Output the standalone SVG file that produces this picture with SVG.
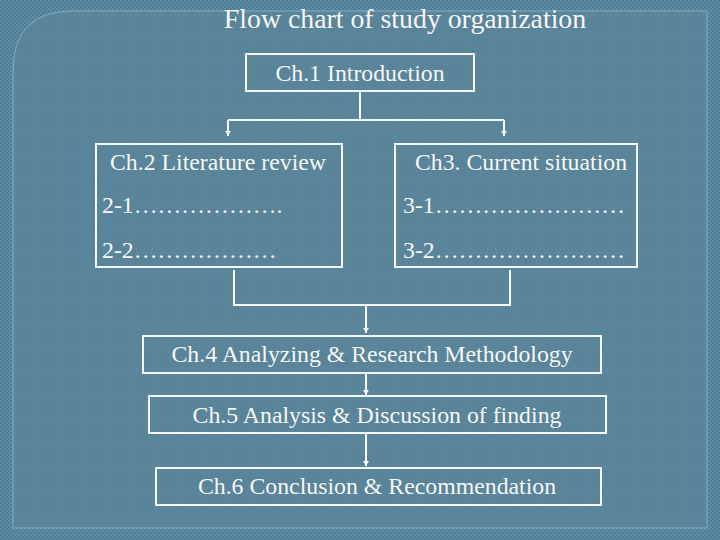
<svg xmlns="http://www.w3.org/2000/svg" width="720" height="540" viewBox="0 0 720 540">
<style>
.box{fill:none;stroke:#f4f8fa;stroke-width:2}
.t{font-family:'Liberation Serif','Tinos','Times New Roman','DejaVu Serif',serif;font-size:23.8px;fill:#f6f6f6}
.c{text-anchor:middle}
.title{font-size:27.8px}
.ln{fill:none;stroke:#f4f8fa;stroke-width:2}
</style>
<defs>
<pattern id="tex" width="4" height="4" patternUnits="userSpaceOnUse">
<rect width="4" height="4" fill="#4e7d96"/>
<rect width="2" height="2" fill="#5e8da5"/>
<rect x="2" y="2" width="2" height="2" fill="#5e8da5"/>
</pattern>
<pattern id="dots" width="24" height="24" patternUnits="userSpaceOnUse">
<rect width="24" height="24" fill="#5a8499"/>
<circle cx="12" cy="12" r="5" fill="none" stroke="#5e889d" stroke-width="1"/>
</pattern>
<marker id="ah" markerUnits="userSpaceOnUse" markerWidth="6" markerHeight="6" refX="5" refY="3" orient="auto" viewBox="0 0 6 6">
<path d="M0,0 L5,3 L0,6 Z" fill="#f4f8fa"/>
</marker>
</defs>
<rect width="720" height="540" fill="url(#tex)"/>
<path d="M13,528 V71 Q13,11 73,11 H707 V528 Z" fill="url(#dots)" stroke="#86abbf" stroke-width="1"/>
<text class="t c title" x="405" y="28">Flow chart of study organization</text>
<g id="connectors">
<path class="ln" d="M360,91 V120"/>
<path class="ln" d="M228,120 H504"/>
<path class="ln" d="M228,120 V136" marker-end="url(#ah)"/>
<path class="ln" d="M504,120 V136" marker-end="url(#ah)"/>
<path class="ln" d="M234,270 V305 H510 V270"/>
<path class="ln" d="M366,305 V333" marker-end="url(#ah)"/>
<path class="ln" d="M366,374 V395" marker-end="url(#ah)"/>
<path class="ln" d="M366,434 V466" marker-end="url(#ah)"/>
</g>
<g id="ch1">
<rect class="box" x="246" y="54" width="228" height="37"/>
<text class="t c" x="360" y="81">Ch.1 Introduction</text>
</g>
<g id="ch2">
<rect class="box" x="96" y="144" width="246" height="123"/>
<text class="t c" x="218" y="170">Ch.2 Literature review</text>
<text class="t" x="102" y="213">2-1……………….</text>
<text class="t" x="102" y="258">2-2………………</text>
</g>
<g id="ch3">
<rect class="box" x="395" y="144" width="242" height="123"/>
<text class="t c" x="521" y="170">Ch3. Current situation</text>
<text class="t" x="403" y="213">3-1……………………</text>
<text class="t" x="403" y="258">3-2……………………</text>
</g>
<g id="ch4">
<rect class="box" x="143" y="336" width="458" height="37"/>
<text class="t c" x="372" y="362">Ch.4 Analyzing &amp; Research Methodology</text>
</g>
<g id="ch5">
<rect class="box" x="149" y="396" width="457" height="37"/>
<text class="t c" x="377" y="423">Ch.5 Analysis &amp; Discussion of finding</text>
</g>
<g id="ch6">
<rect class="box" x="156" y="468" width="445" height="37"/>
<text class="t c" x="377" y="494">Ch.6 Conclusion &amp; Recommendation</text>
</g>
</svg>
